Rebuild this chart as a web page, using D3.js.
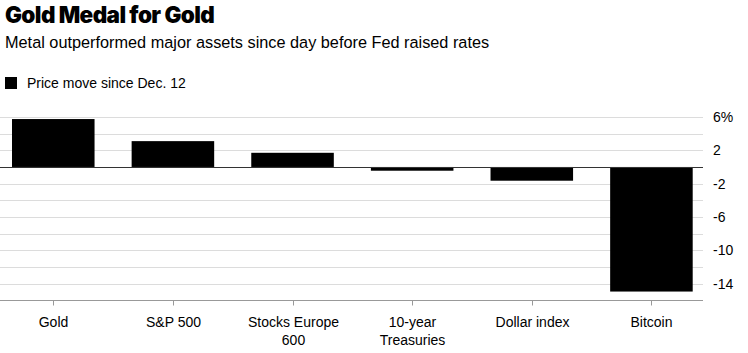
<!DOCTYPE html>
<html><head><meta charset="utf-8">
<script src="https://cdn.jsdelivr.net/npm/d3@7"></script>
<style>
html,body{margin:0;padding:0;background:#fff;}
svg{display:block;font-family:"Liberation Sans",Arial,sans-serif;}
</style></head>
<body>
<svg id="c" width="748" height="353"></svg>
<script>
const categories = [["Gold"],["S&P 500"],["Stocks Europe","600"],["10-year","Treasuries"],["Dollar index"],["Bitcoin"]];
const values = [5.75, 3.1, 1.7, -0.45, -1.65, -14.95];
const gridTicks = [6,4,2,0,-2,-4,-6,-8,-10,-12,-14];
const labelTicks = [6,2,-2,-6,-10,-14];
const title = "Gold Medal for Gold";
const subtitle = "Metal outperformed major assets since day before Fed raised rates";
const legendLabel = "Price move since Dec. 12";

const svg = d3.select("#c");
svg.append("text").attr("x",5).attr("y",23).attr("font-family","Inter, 'Liberation Sans', sans-serif")
  .attr("font-weight",900).attr("font-size",22.5).attr("letter-spacing",-0.6).attr("fill","#000").text(title);
svg.append("text").attr("x",5).attr("y",48).attr("font-size",16.3).attr("fill","#000").text(subtitle);
svg.append("rect").attr("x",5).attr("y",77).attr("width",12).attr("height",12).attr("fill","#000");
svg.append("text").attr("x",27).attr("y",88).attr("font-size",14).attr("fill","#000").text(legendLabel);

const plotLeft = 0, plotRight = 703;
const y = d3.scaleLinear().domain([-16, 8]).range([300.3, 100.3]);
const x = d3.scaleBand().domain(categories.map((d,i)=>i)).range([12, 692.7]).paddingInner(0.31).paddingOuter(0);

// gridlines
svg.append("g").selectAll("line").data(gridTicks.filter(d=>d!==0)).join("line")
  .attr("x1",plotLeft).attr("x2",plotRight)
  .attr("y1",d=>Math.round(y(d))+0.5).attr("y2",d=>Math.round(y(d))+0.5)
  .attr("stroke","#dcdcdc").attr("stroke-width",1);

// y labels
const yAxis = d3.axisRight(y).tickValues(labelTicks).tickSize(0)
  .tickFormat(d=> d===6 ? "6%" : String(d));
const ya = svg.append("g").attr("transform",`translate(${plotRight+7},0)`).call(yAxis);
ya.select(".domain").remove();
ya.selectAll("text").attr("font-size",14).attr("fill","#000").attr("font-family","'Liberation Sans', Arial, sans-serif").attr("dx",0);

// bars
svg.append("g").selectAll("rect").data(values).join("rect")
  .attr("x",(d,i)=>x(i)).attr("width",x.bandwidth())
  .attr("y",d=>y(Math.max(0,d))).attr("height",d=>Math.abs(y(d)-y(0)))
  .attr("fill","#000");

// zero line
svg.append("line").attr("x1",plotLeft).attr("x2",plotRight)
  .attr("y1",Math.round(y(0))+0.5).attr("y2",Math.round(y(0))+0.5)
  .attr("stroke","#333").attr("stroke-width",1);

// x axis
const xa = svg.append("g").attr("transform",`translate(0,${Math.round(y(-16))+0.5})`);
xa.append("line").attr("x1",plotLeft).attr("x2",plotRight).attr("stroke","#999");
const ticks = xa.selectAll("g.t").data(categories).join("g").attr("class","t")
  .attr("transform",(d,i)=>`translate(${Math.round(x(i)+x.bandwidth()/2)+0.5},0)`);
ticks.append("line").attr("y1",0).attr("y2",5).attr("stroke","#999");
ticks.append("text").attr("text-anchor","middle").attr("font-size",14).attr("fill","#000")
  .selectAll("tspan").data(d=>d).join("tspan").attr("x",0).attr("y",(d,j)=>26+j*18).text(d=>d);
</script>
</body></html>
